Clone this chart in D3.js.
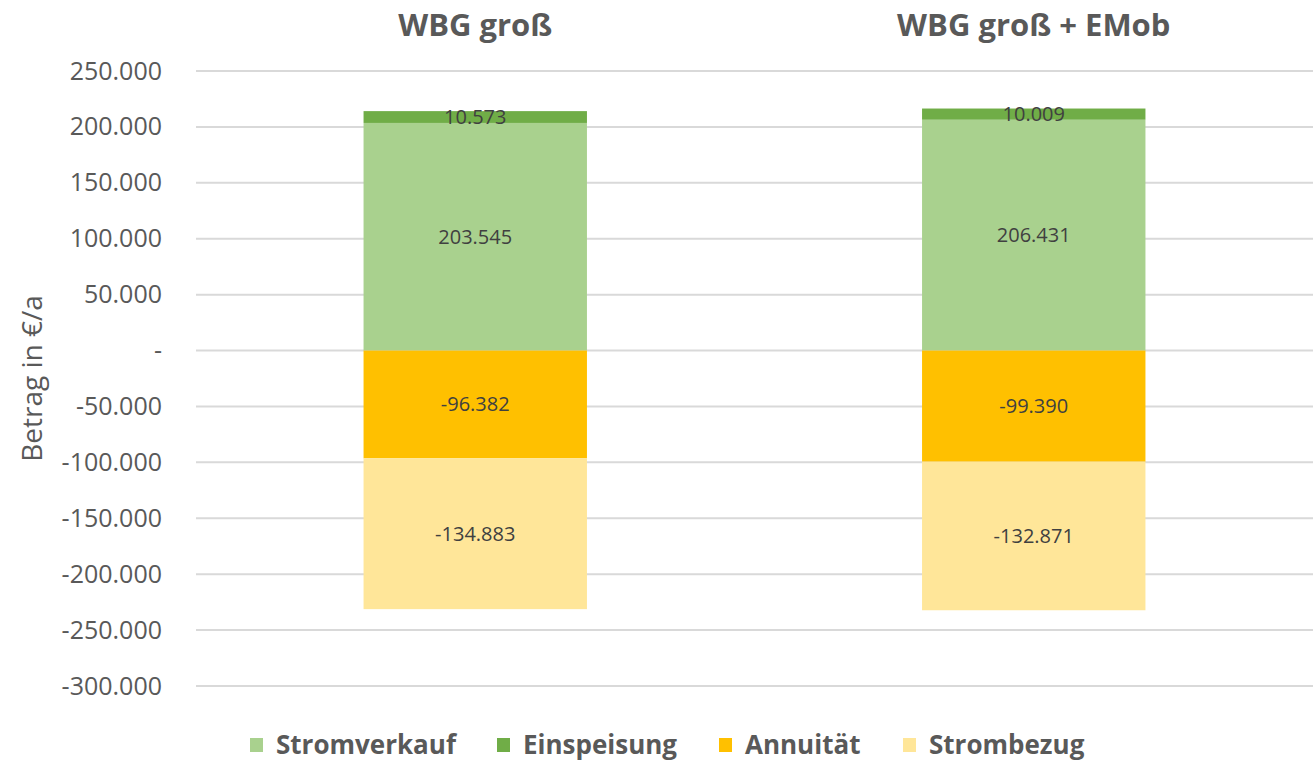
<!DOCTYPE html>
<html>
<head>
<meta charset="utf-8">
<script src="https://cdn.jsdelivr.net/npm/d3@7"></script>
<style>
  body { margin: 0; background: #fff; }
  svg text { font-family: "Open Sans", sans-serif; }
</style>
</head>
<body>
<div id="chart"></div>
<script>
// data
var categories = ["WBG groß", "WBG groß + EMob"];
var series = ["Stromverkauf", "Einspeisung", "Annuität", "Strombezug"];
var stromverkauf = [203545, 206431];
var einspeisung = [10573, 10009];
var annuitaet = [-96382, -99390];
var strombezug = [-134883, -132871];
var yTicks = [250000, 200000, 150000, 100000, 50000, 0, -50000, -100000, -150000, -200000, -250000, -300000];

var colors = {
  "Stromverkauf": "#A9D18E",
  "Einspeisung": "#70AD47",
  "Annuität": "#FFC000",
  "Strombezug": "#FFE699"
};

var values = {
  "Stromverkauf": stromverkauf,
  "Einspeisung": einspeisung,
  "Annuität": annuitaet,
  "Strombezug": strombezug
};

var width = 1313, height = 762;
var margin = {top: 71, right: 0, bottom: 76, left: 196};

var de = d3.formatLocale({decimal: ",", thousands: ".", grouping: [3], currency: ["", "€"], minus: "-"});
var fmt = de.format(",d");

var svg = d3.select("#chart")
  .append("svg")
    .attr("width", width)
    .attr("height", height);

var x = d3.scaleBand()
  .domain(categories)
  .range([margin.left, width - margin.right])
  .paddingInner(0.6)
  .paddingOuter(0.3);

var y = d3.scaleLinear()
  .domain([-300000, 250000])
  .range([height - margin.bottom, margin.top]);

// gridlines
svg.append("g")
  .selectAll("line")
  .data(yTicks)
  .enter()
  .append("line")
    .attr("x1", margin.left)
    .attr("x2", width - margin.right)
    .attr("y1", function(d) { return y(d); })
    .attr("y2", function(d) { return y(d); })
    .style("stroke", "#D9D9D9")
    .style("stroke-width", 2);

// y axis labels
var yax = d3.axisLeft(y)
  .tickValues(yTicks)
  .tickSize(0)
  .tickPadding(34)
  .tickFormat(function(d) { return d === 0 ? "-" : fmt(d); });

var gy = svg.append("g")
  .attr("transform", "translate(" + margin.left + ",0)")
  .call(yax);
gy.select(".domain").remove();
gy.selectAll("text")
  .style("font-family", "Open Sans, sans-serif")
  .style("font-size", "25px")
  .style("fill", "#595959");

// category titles on top
var xax = d3.axisTop(x).tickSize(0).tickPadding(0);
var gx = svg.append("g")
  .attr("transform", "translate(0,36)")
  .call(xax);
gx.select(".domain").remove();
gx.selectAll("text")
  .style("font-family", "Open Sans, sans-serif")
  .style("font-size", "31px")
  .style("font-weight", "bold")
  .style("fill", "#595959");

// y axis title
svg.append("text")
  .attr("transform", "translate(42," + ((margin.top + height - margin.bottom) / 2) + ") rotate(-90)")
  .attr("text-anchor", "middle")
  .style("font-size", "28px")
  .style("fill", "#595959")
  .text("Betrag in €/a");

// stacked segments
var segs = [];
categories.forEach(function(c, i) {
  var pos = 0, neg = 0;
  series.forEach(function(s) {
    var v = values[s][i];
    var y0, y1;
    if (v >= 0) { y0 = pos; y1 = pos + v; pos = y1; }
    else { y0 = neg; y1 = neg + v; neg = y1; }
    segs.push({cat: c, name: s, v: v, y0: y0, y1: y1});
  });
});

svg.append("g")
  .selectAll("rect")
  .data(segs)
  .enter()
  .append("rect")
    .attr("x", function(d) { return x(d.cat); })
    .attr("width", x.bandwidth())
    .attr("y", function(d) { return y(Math.max(d.y0, d.y1)); })
    .attr("height", function(d) { return Math.abs(y(d.y0) - y(d.y1)); })
    .style("fill", function(d) { return colors[d.name]; });

// data labels
svg.append("g")
  .selectAll("text")
  .data(segs)
  .enter()
  .append("text")
    .attr("x", function(d) { return x(d.cat) + x.bandwidth() / 2; })
    .attr("y", function(d) { return y((d.y0 + d.y1) / 2); })
    .attr("dy", "0.35em")
    .attr("text-anchor", "middle")
    .style("font-size", "20px")
    .style("fill", "#404040")
    .text(function(d) { return fmt(d.v); });

// legend
var legendX = [250, 497, 719, 903];
var lg = svg.append("g")
  .selectAll("g")
  .data(series)
  .enter()
  .append("g")
    .attr("transform", function(d, i) { return "translate(" + legendX[i] + ",745)"; });

lg.append("rect")
  .attr("x", 0)
  .attr("y", -7)
  .attr("width", 13)
  .attr("height", 14)
  .style("fill", function(d) { return colors[d]; });

lg.append("text")
  .attr("x", 26)
  .attr("dy", "0.35em")
  .style("font-size", "26px")
  .style("font-weight", "bold")
  .style("fill", "#595959")
  .text(function(d) { return d; });
</script>
</body>
</html>
